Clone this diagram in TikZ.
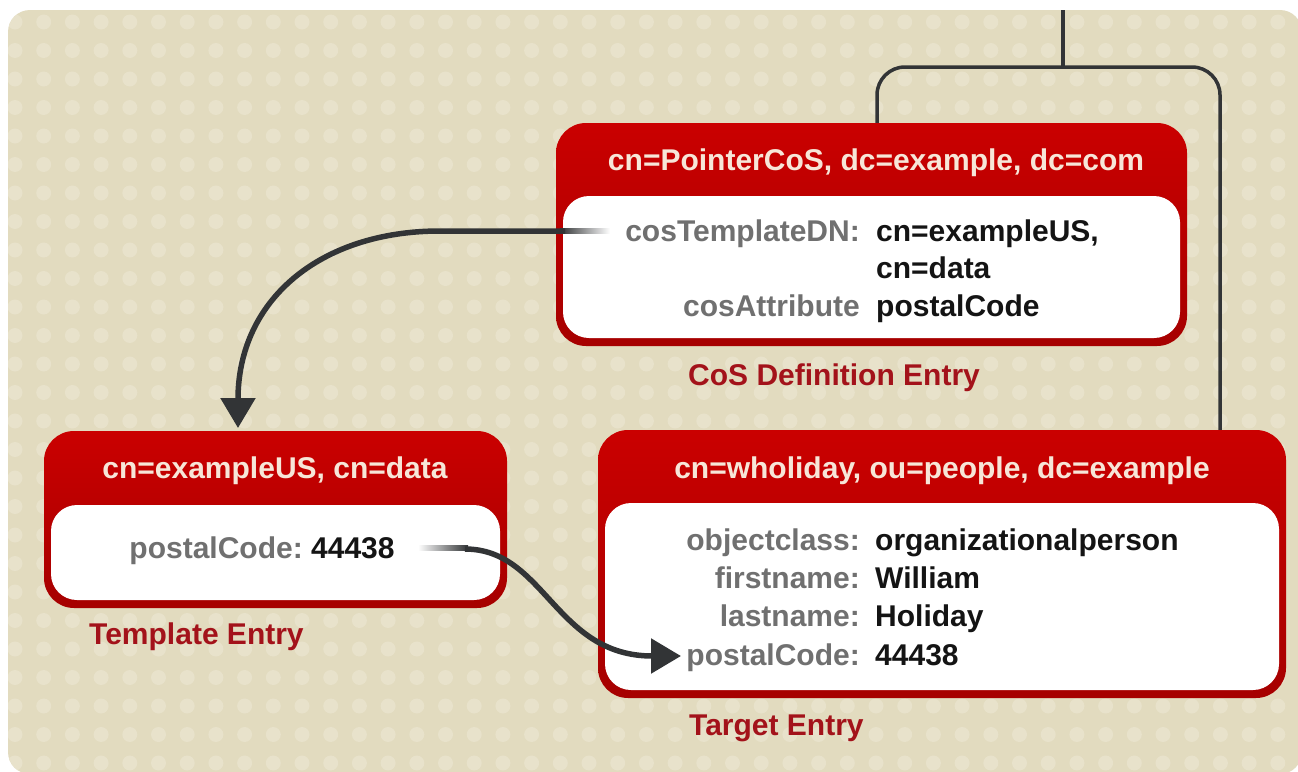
\documentclass[tikz,border=0pt]{standalone}
\usepackage{fontspec}
\setmainfont{Liberation Sans}
\usetikzlibrary{arrows.meta}
\definecolor{bgcol}{HTML}{E2DBBF}
\definecolor{dotcol}{HTML}{E8E2CB}
\definecolor{redtop}{HTML}{CA0000}
\definecolor{redbot}{HTML}{A60000}
\definecolor{hdrcol}{HTML}{F7E6D8}
\definecolor{lblcol}{HTML}{707070}
\definecolor{valcol}{HTML}{141414}
\definecolor{capcol}{HTML}{A3121A}
\definecolor{linecol}{HTML}{323436}
\tikzset{
  redbox/.style={draw=none, rounded corners=30pt, top color=redtop, bottom color=redbot, inner sep=0pt},
  whitebox/.style={draw=none, fill=white, rounded corners=26pt, inner sep=0pt},
  txt/.style={inner sep=0pt, text height=21.5pt, text depth=0pt},
  hdr/.style={txt, text=hdrcol},
  lbl/.style={txt, text=lblcol, anchor=east},
  val/.style={txt, text=valcol, anchor=west},
  captxt/.style={txt, text=capcol, anchor=west},
  conn/.style={draw=linecol, line width=3.5pt},
  arr/.style={draw=linecol, line width=5.5pt, -{Triangle[width=34pt,length=30pt]}}
}
\begin{document}
\begin{tikzpicture}[x=1pt, y=-1pt, font=\bfseries\fontsize{30}{36}\selectfont]
\useasboundingbox (0,0) rectangle (1298,771);
\fill[white] (0,0) rectangle (1298,771);
\begin{scope}
  \clip[rounded corners=22pt] (8,10) rectangle (1302,774);
  \fill[bgcol] (0,0) rectangle (1302,774);
  \foreach \i in {0,...,45} {
    \foreach \j in {0,...,26} {
      \fill[dotcol] (15+\i*28.7, 22+\j*28.5) circle[radius=7.5pt];
    }
  }
\end{scope}

% top connector
\coordinate (top) at (1063,10);
\coordinate (jn) at (1063,67);
\coordinate (cosTop) at (877,123);
\coordinate (tgtTop) at (1220,431);
\draw[conn] (top) -- (jn);
\draw[conn, rounded corners=28pt] (cosTop) |- (jn) -| (tgtTop);

% CoS definition entry
\node[redbox, minimum width=631pt, minimum height=223pt] (cos) at (871.5,234.5) {};
\node[whitebox, minimum width=617pt, minimum height=142pt] (cosbody) at (871.5,267) {};
\node[hdr] (cosh) at (876,160) {cn=PointerCoS, dc=example, dc=com};
\node[lbl] (cl1) at (860,231) {cosTemplateDN:};
\node[val] (cv1) at (876,231) {cn=exampleUS,};
\node[val] (cv2) at (876,268) {cn=data};
\node[lbl] (cl3) at (860,306) {cosAttribute};
\node[val] (cv3) at (876,306) {postalCode};
\node[captxt] (cosc) at (688,375) {CoS Definition Entry};

% Template entry
\node[redbox, minimum width=463pt, minimum height=177pt] (tmpl) at (275.5,519.5) {};
\node[whitebox, minimum width=449pt, minimum height=95pt] (tmplbody) at (275.5,552.5) {};
\node[hdr] (tmplh) at (275,468) {cn=exampleUS, cn=data};
\node[lbl] (tl1) at (303,548) {postalCode:};
\node[val] (tv1) at (311,548) {44438};
\node[captxt] (tmplc) at (89,634) {Template Entry};

% Target entry
\node[redbox, minimum width=688pt, minimum height=268pt] (tgt) at (942,564) {};
\node[whitebox, minimum width=674pt, minimum height=187pt] (tgtbody) at (942,596.5) {};
\node[hdr] (tgth) at (942,468) {cn=wholiday, ou=people, dc=example};
\node[lbl] (gl1) at (860,540) {objectclass:};
\node[val] (gv1) at (875,540) {organizationalperson};
\node[lbl] (gl2) at (860,578) {firstname:};
\node[val] (gv2) at (875,578) {William};
\node[lbl] (gl3) at (860,616) {lastname:};
\node[val] (gv3) at (875,616) {Holiday};
\node[lbl] (gl4) at (860,655) {postalCode:};
\node[val] (gv4) at (875,655) {44438};
\node[captxt] (tgtc) at (689,725) {Target Entry};

% arrow 1: cosTemplateDN -> template entry
\coordinate (a1s) at (565,231);
\coordinate (a1e) at (238,428);
\shade[left color=linecol, right color=white] (560,228.25) rectangle (610,233.75);
\draw[arr] (a1s) -- (440,231) .. controls (320,231) and (238,300) .. (a1e);

% arrow 2: template postalCode -> target postalCode
\coordinate (a2s) at (465,549);
\coordinate (a2e) at (681,656);
\shade[left color=white, right color=linecol] (418,545.25) rectangle (468,550.75);
\draw[arr] (a2s) .. controls (545,549) and (555,656) .. (a2e);
\end{tikzpicture}
\end{document}
